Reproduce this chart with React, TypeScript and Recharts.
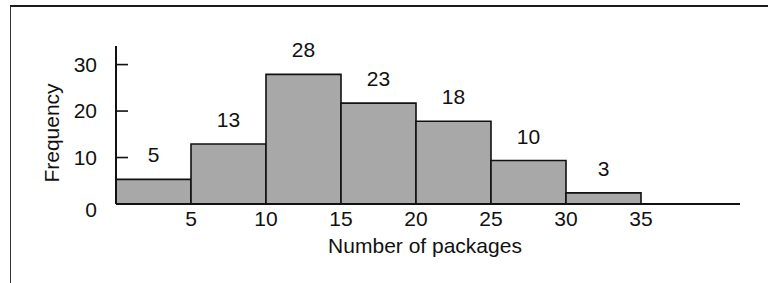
import React from "react";
import {Bar, ComposedChart, LabelList, XAxis, YAxis} from "recharts";

// class intervals (lower bound), width 5
const binStarts = [0, 5, 10, 15, 20, 25, 30];
// bar heights as drawn in the picture
const barHeights = [5.3, 12.9, 27.9, 21.7, 17.8, 9.35, 2.4];
// printed frequency labels
const barLabels = ["5", "13", "28", "23", "18", "10", "3"];
const xTicks = [5, 10, 15, 20, 25, 30, 35];
const yTicks = [0, 10, 20, 30];

const binWidth = 5;
const font = "'Liberation Sans', Arial, Helvetica, sans-serif";

const rows = binStarts.map((start, i) => ({
	mid: start + binWidth / 2,
	height: barHeights[i],
	label: barLabels[i]
}));

const YTick = (props: any) => {
	const {x, y, payload} = props;
	return <g>
		{payload.value !== 0 && <line x1={x} x2={x + 12} y1={y} y2={y} stroke="#111" strokeWidth={1.6}/>}
		<text x={x - 19} y={y} dy={payload.value === 0 ? 13 : 7} textAnchor="end" fontSize={21}
					fontFamily={font} fill="#111">{payload.value}</text>
	</g>
};

const XTick = (props: any) => {
	const {x, y, payload} = props;
	return <text x={x} y={y + 22} textAnchor="middle" fontSize={21} fontFamily={font} fill="#111">
		{payload.value}
	</text>
};

export default function App() {
	return <div style={{position: "fixed", left: 0, top: 0, width: 768, height: 283, background: "#fff"}}>
		<div style={{
			position: "absolute", left: 10, top: 5, width: 758, height: 278, boxSizing: "border-box",
			borderTop: "2px solid #1c1c1c", borderLeft: "1.5px solid #333"
		}}/>
		<ComposedChart width={768} height={283} data={rows} barCategoryGap={0} barGap={0}
									 margin={{top: 46, right: 28, bottom: 49, left: 56}}>
			<XAxis type="number" dataKey="mid" domain={[0, 41.6]} ticks={xTicks} allowDataOverflow
						 height={30} tickSize={0} tickMargin={0} tickLine={false} tick={<XTick/>}
						 axisLine={{stroke: "#111", strokeWidth: 2}}
						 label={{
							 content: ({viewBox}: any) => <text x={viewBox.x + viewBox.width / 2 - 3} y={viewBox.y + 49}
																					 textAnchor="middle" fontSize={21} fontFamily={font}
																					 fill="#111">Number of packages</text>
						 }}/>
			<YAxis type="number" domain={[0, 34]} ticks={yTicks} width={60} tickSize={0} tickMargin={0}
						 tickLine={false} tick={<YTick/>} axisLine={{stroke: "#111", strokeWidth: 2}}
						 label={{
							 content: ({viewBox}: any) => {
								 const cx = viewBox.x - 4;
								 const cy = viewBox.y + viewBox.height / 2 + 8;
								 return <text x={cx} y={cy} transform={`rotate(-90 ${cx} ${cy})`} dy={7}
															textAnchor="middle" fontSize={21} fontFamily={font}
															fill="#111">Frequency</text>
							 }
						 }}/>
			<Bar dataKey="height" fill="#a8a8a8" stroke="#111" strokeWidth={1.6}
					 isAnimationActive={false}>
				<LabelList dataKey="label" position="top" offset={17} fontSize={21} fontFamily={font} fill="#111"/>
			</Bar>
		</ComposedChart>
	</div>
}
